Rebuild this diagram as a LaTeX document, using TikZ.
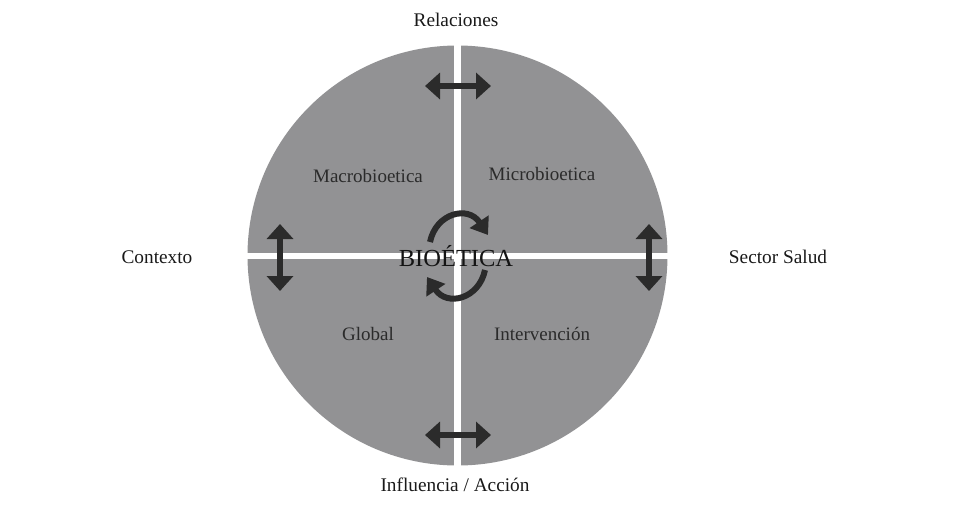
\documentclass[tikz,border=0pt]{standalone}
\usepackage{fontspec}
\setmainfont{Liberation Serif}
\usetikzlibrary{arrows.meta}
\definecolor{discgray}{RGB}{146,146,148}
\definecolor{arrowdark}{RGB}{43,43,43}
\tikzset{
  label/.style={font=\fontsize{19.3}{21}\selectfont, text=black!90},
  quad/.style={font=\fontsize{19}{21}\selectfont, text=arrowdark},
  twoway/.style={arrowdark, line width=6pt, {Triangle[width=26pt,length=15pt]}-{Triangle[width=26pt,length=15pt]}},
  turn/.style={arrowdark, line width=6pt, -{Triangle[width=22pt,length=16pt]}}
}
\begin{document}
\begin{tikzpicture}[x=1pt,y=-1pt]
\useasboundingbox (0,0) rectangle (960,504);

\fill[discgray] (457.5,255.5) circle (210);
\fill[white] (454.2,40) rectangle (460.8,470);
\fill[white] (240,252.5) rectangle (675,258.5);

\coordinate (topL) at (425,86);
\coordinate (topR) at (491,86);
\coordinate (botL) at (425,435);
\coordinate (botR) at (491,435);
\coordinate (leftT) at (280,224);
\coordinate (leftB) at (280,291);
\coordinate (rightT) at (649,224);
\coordinate (rightB) at (649,291);

\draw[twoway] (topL) -- (topR);
\draw[twoway] (botL) -- (botR);
\draw[twoway] (leftT) -- (leftB);
\draw[twoway] (rightT) -- (rightB);

\coordinate (upS) at (430,242);
\coordinate (upE) at (488,235);
\coordinate (loS) at (485,270);
\coordinate (loE) at (427,277);
\draw[turn] (upS) .. controls (436,213) and (468,205) .. (upE);
\draw[turn] (loS) .. controls (479,299) and (447,307) .. (loE);

\node[label] (rel) at (456,20) {Relaciones};
\node[label] (ctx) at (157,257) {Contexto};
\node[label] (sec) at (778,257) {Sector Salud};
\node[label] (inf) at (455,485) {Influencia / Acción};

\node[quad] (macro) at (368,176) {Macrobioetica};
\node[quad] (micro) at (542,174) {Microbioetica};
\node[quad] (glob) at (368,334) {Global};
\node[quad] (inter) at (542,334) {Intervención};

\node[font=\fontsize{24.5}{28}\selectfont, text=black!92] (bio) at (456,256) {BIOÉTICA};
\end{tikzpicture}
\end{document}
